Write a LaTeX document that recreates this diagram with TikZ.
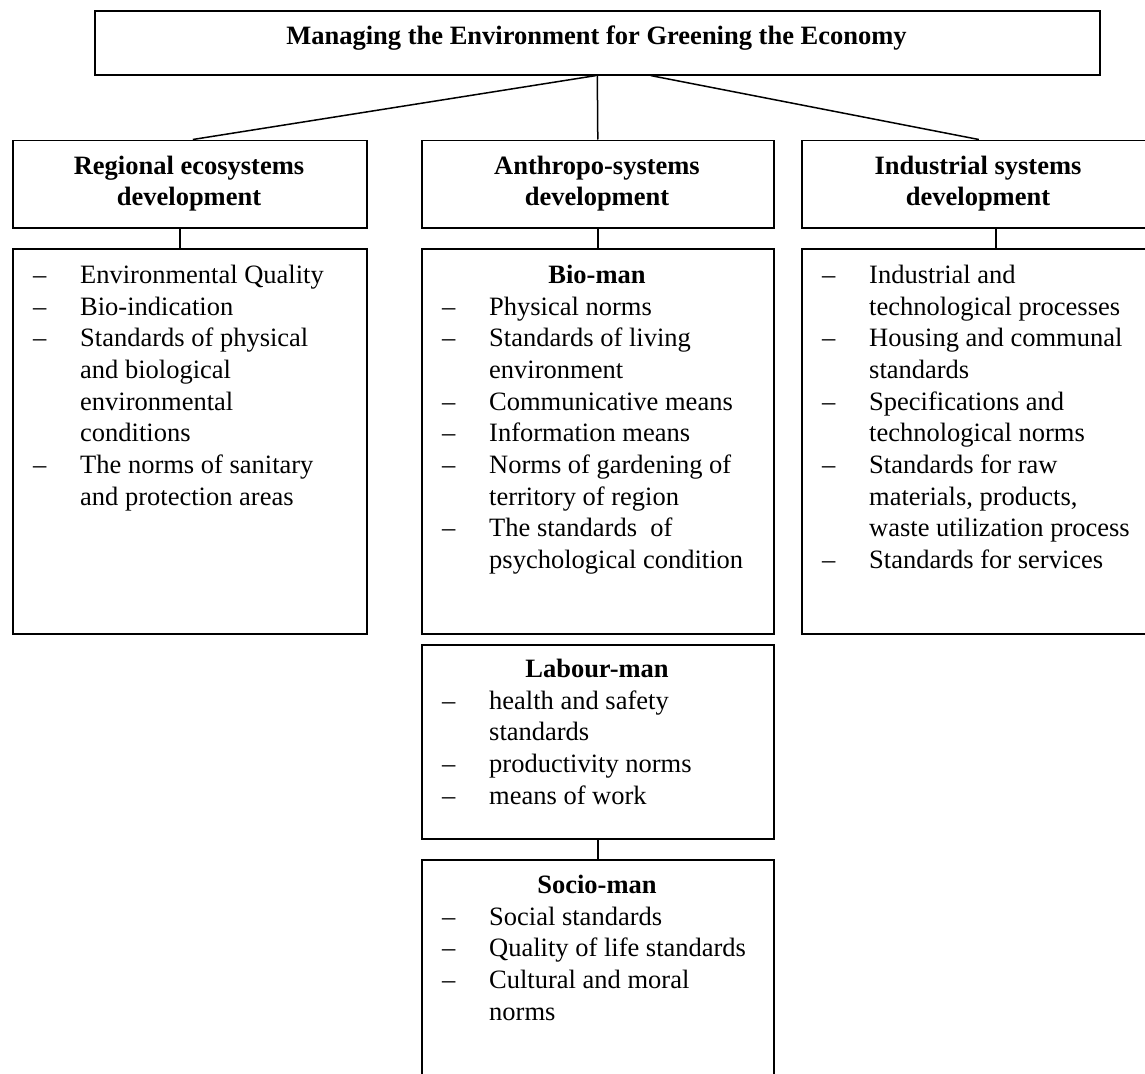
\documentclass[tikz,border=0pt]{standalone}
\usepackage{fontspec}
\setmainfont{Liberation Serif}
\newcommand\fs{\fontsize{26.5}{31.7}\selectfont}
\newcommand\idash{\makebox[47pt][l]{–}}
\newcommand\iind{\hspace*{47pt}}
\newcommand\boxlines[4]{%
  \foreach \t [count=\i from 0] in {#4} {\node[ln] (#3\i) at (#1, #2+\i*31.7) {\t};}}
\tikzset{
  box/.style={draw, line width=1.6pt, anchor=north west, inner sep=0pt, rectangle},
  conn/.style={line width=1.5pt},
  hd/.style={anchor=base, inner sep=0pt, font=\fs\bfseries},
  ln/.style={anchor=base west, inner sep=0pt, font=\fs}
}
\begin{document}
\begin{tikzpicture}[x=1pt,y=-1pt]
\clip (0,0) rectangle (1145,1073);
\fill[white] (0,0) rectangle (1145,1073);
% boxes
\node[box, minimum width=1005pt, minimum height=64pt] (top) at (94,10) {};
\node[box, minimum width=354pt, minimum height=87.5pt] (reg) at (12,139.5) {};
\node[box, minimum width=352pt, minimum height=87.5pt] (anth) at (421,139.5) {};
\node[box, minimum width=354pt, minimum height=87.5pt] (ind) at (801,139.5) {};
\node[box, minimum width=354pt, minimum height=385pt] (regl) at (12,248) {};
\node[box, minimum width=352pt, minimum height=385pt] (bio) at (421,248) {};
\node[box, minimum width=354pt, minimum height=385pt] (indl) at (801,248) {};
\node[box, minimum width=352pt, minimum height=194pt] (lab) at (421,644) {};
\node[box, minimum width=352pt, minimum height=260pt] (soc) at (421,859) {};
% connectors
\draw[conn] (top.south) -- (anth.north);
\draw[conn] ([xshift=-1.5pt]top.south) -- ([xshift=3pt]reg.north);
\draw[conn] ([xshift=53.5pt]top.south) -- (ind.north);
\draw[conn] ([xshift=-10pt]reg.south) -- ([xshift=-10pt]regl.north);
\draw[conn] (anth.south) -- (bio.north);
\draw[conn] ([xshift=17pt]ind.south) -- ([xshift=17pt]indl.north);
\draw[conn] (lab.south) -- (soc.north);
% headings
\node[hd] (title) at (596.5,45) {Managing the Environment for Greening the Economy};
\node[hd] (regh1) at (189,174) {Regional ecosystems};
\node[hd] (regh2) at (189,205) {development};
\node[hd] (anthh1) at (597,174) {Anthropo-systems};
\node[hd] (anthh2) at (597,205) {development};
\node[hd] (indh1) at (978,174) {Industrial systems};
\node[hd] (indh2) at (978,205) {development};
\node[hd] (bioh) at (597,283.5) {Bio-man};
\node[hd] (labh) at (597,677) {Labour-man};
\node[hd] (soch) at (597,893) {Socio-man};
% lists
\boxlines{33}{283.3}{r}{
  \idash Environmental Quality,
  \idash Bio-indication,
  \idash Standards of physical,
  \iind and biological,
  \iind environmental,
  \iind conditions,
  \idash The norms of sanitary,
  \iind and protection areas}
\boxlines{822}{283.3}{n}{
  \idash Industrial and,
  \iind technological processes,
  \idash Housing and communal,
  \iind standards,
  \idash Specifications and,
  \iind technological norms,
  \idash Standards for raw,
  {\iind materials, products,},
  \iind waste utilization process,
  \idash Standards for services}
\boxlines{442}{315}{b}{
  \idash Physical norms,
  \idash Standards of living,
  \iind environment,
  \idash Communicative means,
  \idash Information means,
  \idash Norms of gardening of,
  \iind territory of region,
  \idash The standards~ of,
  \iind psychological condition}
\boxlines{442}{709}{l}{
  \idash health and safety,
  \iind standards,
  \idash productivity norms,
  \idash means of work}
\boxlines{442}{925}{s}{
  \idash Social standards,
  \idash Quality of life standards,
  \idash Cultural and moral,
  \iind norms}
\end{tikzpicture}
\end{document}
